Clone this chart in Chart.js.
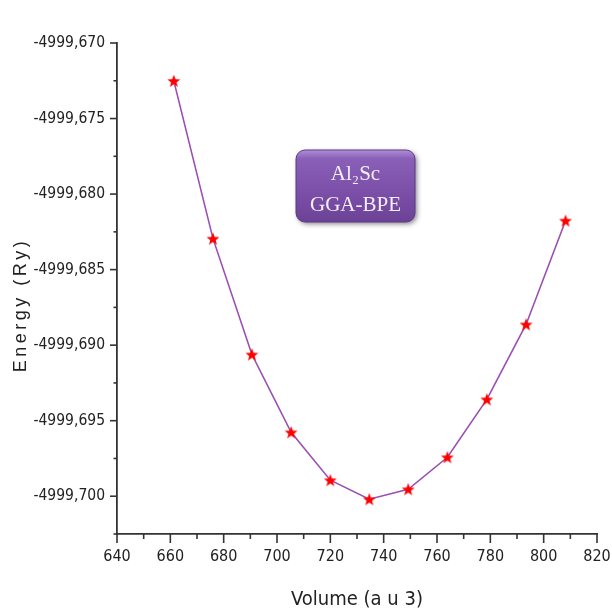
<!DOCTYPE html>
<html>
<head>
<meta charset="utf-8">
<script src="https://cdn.jsdelivr.net/npm/chart.js@4"></script>
<style>
  html, body { margin: 0; padding: 0; background: #fff; }
  canvas { display: block; }
</style>
</head>
<body>
<canvas id="chart" width="612" height="612"></canvas>
<script>
// data
const volumes = [661.3, 676.0, 690.6, 705.3, 720.0, 734.6, 749.2, 763.9, 778.7, 793.4, 808.2];
const energies = [-4999.67251, -4999.68295, -4999.69062, -4999.69577, -4999.69894, -4999.70020,
                  -4999.69954, -4999.69742, -4999.69359, -4999.68863, -4999.68176];
const xTicks = [640, 660, 680, 700, 720, 740, 760, 780, 800, 820];
const xMinor = [650, 670, 690, 710, 730, 750, 770, 790, 810];
const yTicks = [-4999.670, -4999.675, -4999.680, -4999.685, -4999.690, -4999.695, -4999.700];
const yMinor = [-4999.6725, -4999.6775, -4999.6825, -4999.6875, -4999.6925, -4999.6975, -4999.7025];
const boxLines = ['Al₂Sc', 'GGA-BPE'];
const yTitle = 'Energy (Ry)';

const tickFont = '"DejaVu Sans Condensed", Arial, sans-serif';

// filled red star marker
function makeStar(r) {
    const c = document.createElement('canvas');
    const s = Math.ceil(r * 2 + 2);
    c.width = s; c.height = s;
    const g = c.getContext('2d');
    g.beginPath();
    for (let i = 0; i < 10; i++) {
        const rad = i % 2 === 0 ? r : r * 0.42;
        const a = -Math.PI / 2 + i * Math.PI / 5;
        const px = s / 2 + rad * Math.cos(a), py = s / 2 + rad * Math.sin(a) + 0.5;
        i === 0 ? g.moveTo(px, py) : g.lineTo(px, py);
    }
    g.closePath();
    g.fillStyle = '#ff0000';
    g.fill();
    return c;
}
const star = makeStar(6.8);

const axisTicks = {
    id: 'axisTicks',
    afterDraw(chart) {
        const ctx = chart.ctx;
        const xs = chart.scales.x, ys = chart.scales.y;
        const left = chart.chartArea.left, bottom = chart.chartArea.bottom;
        ctx.save();
        ctx.strokeStyle = '#333';
        ctx.lineWidth = 1.6;
        xTicks.forEach(v => {
            const p = xs.getPixelForValue(v);
            ctx.beginPath(); ctx.moveTo(p, bottom); ctx.lineTo(p, bottom + 9); ctx.stroke();
        });
        xMinor.forEach(v => {
            const p = xs.getPixelForValue(v);
            ctx.beginPath(); ctx.moveTo(p, bottom); ctx.lineTo(p, bottom + 5); ctx.stroke();
        });
        yTicks.forEach(v => {
            const p = ys.getPixelForValue(v);
            ctx.beginPath(); ctx.moveTo(left, p); ctx.lineTo(left - 7, p); ctx.stroke();
        });
        yMinor.forEach(v => {
            const p = ys.getPixelForValue(v);
            ctx.beginPath(); ctx.moveTo(left, p); ctx.lineTo(left - 3.5, p); ctx.stroke();
        });
        // spaced-out y axis title
        ctx.translate(26, 305);
        ctx.rotate(-Math.PI / 2);
        ctx.fillStyle = '#222';
        ctx.font = '18px Arial, "Liberation Sans", sans-serif';
        ctx.letterSpacing = '3.5px';
        ctx.textAlign = 'center';
        ctx.textBaseline = 'alphabetic';
        ctx.fillText(yTitle, 0, 0);
        ctx.restore();
    }
};

const labelBox = {
    id: 'labelBox',
    afterDraw(chart) {
        const ctx = chart.ctx;
        const x = 296, y = 150, w = 119, h = 72, r = 9;
        ctx.save();
        ctx.shadowColor = 'rgba(40,30,50,0.55)';
        ctx.shadowBlur = 5;
        ctx.shadowOffsetX = 2;
        ctx.shadowOffsetY = 2;
        const grad = ctx.createLinearGradient(0, y, 0, y + h);
        grad.addColorStop(0, '#b08fd6');
        grad.addColorStop(0.12, '#8a5fb8');
        grad.addColorStop(0.6, '#7b4fa8');
        grad.addColorStop(1, '#6c4296');
        ctx.fillStyle = grad;
        ctx.beginPath();
        ctx.roundRect(x, y, w, h, r);
        ctx.fill();
        ctx.shadowColor = 'transparent';
        ctx.strokeStyle = '#5e3a86';
        ctx.lineWidth = 1;
        ctx.stroke();
        ctx.fillStyle = '#f3eef7';
        ctx.textAlign = 'center';
        ctx.textBaseline = 'alphabetic';
        ctx.font = '21px "Liberation Serif", "Times New Roman", serif';
        ctx.fillText(boxLines[0], x + w / 2, y + 30);
        ctx.fillText(boxLines[1], x + w / 2, y + 61);
        ctx.restore();
    }
};

new Chart(document.getElementById('chart'), {
    type: 'line',
    data: {
        datasets: [{
            data: volumes.map((v, i) => ({ x: v, y: energies[i] })),
            borderColor: '#9b4fb3',
            borderWidth: 1.6,
            tension: 0,
            pointStyle: star,
            pointRadius: 7,
            pointHoverRadius: 7
        }]
    },
    options: {
        responsive: false,
        animation: false,
        events: [],
        layout: { padding: { top: 43, right: 15, left: 0, bottom: 0 } },
        plugins: { legend: { display: false }, tooltip: { enabled: false } },
        scales: {
            x: {
                type: 'linear',
                min: 640, max: 820,
                afterBuildTicks: s => { s.ticks = xTicks.map(v => ({ value: v })); },
                afterFit: s => { s.height = 78; s.paddingLeft = 0; s.paddingRight = 0; },
                grid: { display: false, drawTicks: false },
                border: { display: true, color: '#333', width: 1.8 },
                ticks: {
                    color: '#222',
                    padding: 13,
                    maxRotation: 0,
                    font: { family: tickFont, size: 16 },
                    callback: v => String(v)
                },
                title: {
                    display: true,
                    text: 'Volume (a u 3)',
                    color: '#222',
                    font: { family: tickFont, size: 20 },
                    padding: { top: 7, bottom: 0 }
                }
            },
            y: {
                type: 'linear',
                min: -4999.7025, max: -4999.670,
                afterBuildTicks: s => { s.ticks = yTicks.map(v => ({ value: v })); },
                afterFit: s => { s.width = 117; s.paddingTop = 0; s.paddingBottom = 0; },
                grid: { display: false, drawTicks: false },
                border: { display: true, color: '#333', width: 1.8 },
                ticks: {
                    color: '#222',
                    padding: 12,
                    font: { family: tickFont, size: 15.5 },
                    callback: v => v.toFixed(3).replace('.', ',')
                },
                title: { display: false }
            }
        }
    },
    plugins: [axisTicks, labelBox]
});
</script>
</body>
</html>
